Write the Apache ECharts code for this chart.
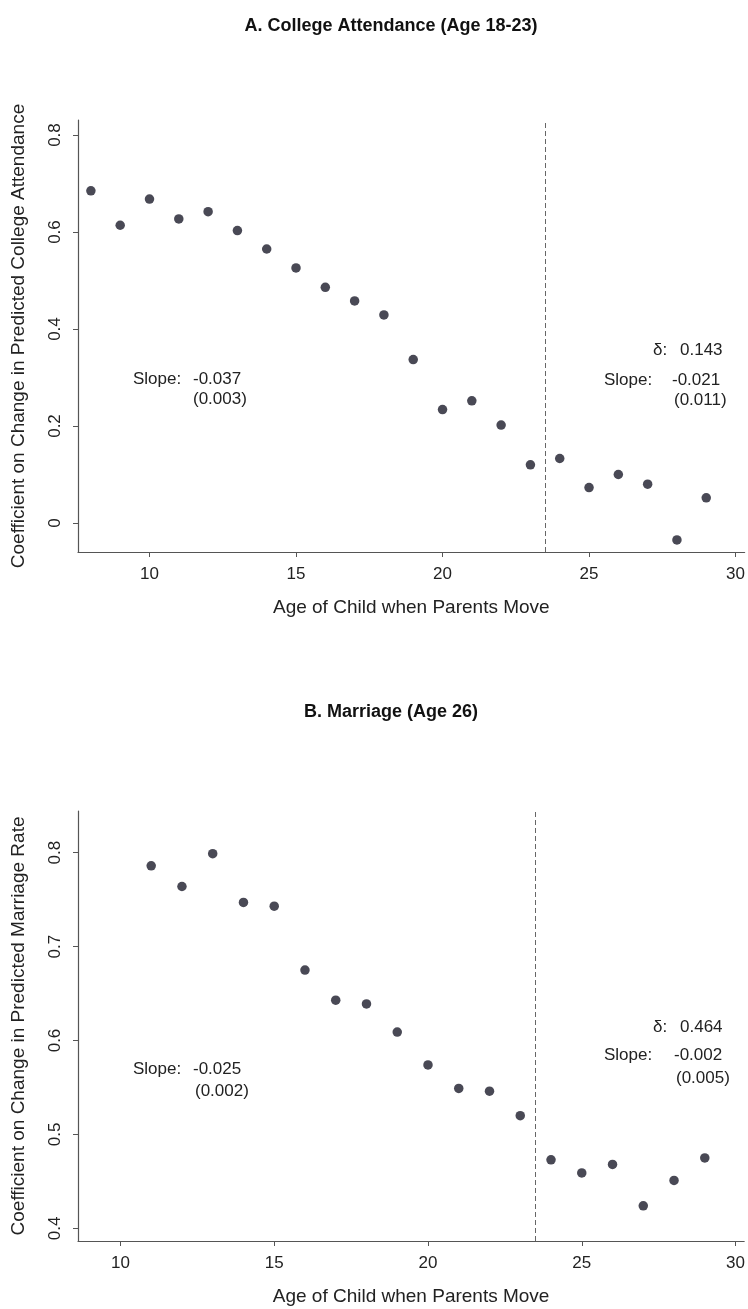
<!DOCTYPE html>
<html>
<head>
<meta charset="utf-8">
<script src="https://cdn.jsdelivr.net/npm/echarts@6/dist/echarts.min.js"></script>
<style>
  html, body { margin: 0; padding: 0; background: #fff; }
  #chart { width: 748px; height: 1309px; }
</style>
</head>
<body>
<div id="chart"></div>
<script>
// Panel A: college attendance (age 18-23)
const agesA = [8, 9, 10, 11, 12, 13, 14, 15, 16, 17, 18, 19, 20, 21, 22, 23, 24, 25, 26, 27, 28, 29];
const collegeCoef = [0.685, 0.614, 0.668, 0.627, 0.642, 0.603, 0.565, 0.526, 0.486, 0.458, 0.429,
                     0.337, 0.234, 0.252, 0.202, 0.120, 0.133, 0.073, 0.100, 0.080, -0.035, 0.052];

// Panel B: marriage (age 26)
const agesB = [11, 12, 13, 14, 15, 16, 17, 18, 19, 20, 21, 22, 23, 24, 25, 26, 27, 28, 29];
const marriageCoef = [0.786, 0.764, 0.799, 0.747, 0.743, 0.675, 0.643, 0.639, 0.609, 0.574,
                      0.549, 0.546, 0.520, 0.473, 0.459, 0.468, 0.424, 0.451, 0.475];

// Axis ticks
const xTicks = [10, 15, 20, 25, 30];
const yTicksA = [0, 0.2, 0.4, 0.6, 0.8];
const yTicksB = [0.4, 0.5, 0.6, 0.7, 0.8];

// Age cutoff (dashed reference line)
const cutoff = [23.5];

// Panel titles and axis names
const titles = ['A. College Attendance (Age 18-23)', 'B. Marriage (Age 26)'];
const xName = 'Age of Child when Parents Move';
const yNames = ['Coefficient on Change in Predicted College Attendance',
                'Coefficient on Change in Predicted Marriage Rate'];

// Regression statistics printed inside each panel
const slopeBelowA = ['-0.037', '(0.003)'];
const slopeAboveA = ['0.143', '-0.021', '(0.011)'];
const slopeBelowB = ['-0.025', '(0.002)'];
const slopeAboveB = ['0.464', '-0.002', '(0.005)'];

const FONT = '"Liberation Sans", Arial, Helvetica, sans-serif';
const INK = '#222';
const AXIS = '#555';
const DOT = '#1c1c2a';

function xAxisFor(gridIndex, min, max) {
  return {
    type: 'value', gridIndex, min, max,
    name: xName, nameLocation: 'middle', nameGap: 46,
    nameTextStyle: { fontFamily: FONT, fontSize: 19, color: INK },
    axisLine: { show: true, onZero: false, lineStyle: { color: AXIS, width: 1.2 } },
    axisTick: { show: true, length: 5, customValues: xTicks, lineStyle: { color: AXIS } },
    axisLabel: { customValues: xTicks, margin: 14, fontFamily: FONT, fontSize: 17, color: INK },
    splitLine: { show: false }
  };
}

function yAxisFor(gridIndex, min, max, ticks, name) {
  return {
    type: 'value', gridIndex, min, max,
    name, nameLocation: 'middle', nameRotate: 90, nameGap: 50,
    nameTextStyle: { fontFamily: FONT, fontSize: 19, color: INK },
    axisLine: { show: true, onZero: false, lineStyle: { color: AXIS, width: 1.2 } },
    axisTick: { show: true, length: 5, customValues: ticks, lineStyle: { color: AXIS } },
    axisLabel: { customValues: ticks, rotate: 90, margin: 14, fontFamily: FONT, fontSize: 17, color: INK },
    splitLine: { show: false }
  };
}

function scatterFor(idx, ages, values) {
  return {
    type: 'scatter', xAxisIndex: idx, yAxisIndex: idx,
    data: ages.map((a, i) => [a, values[i]]),
    symbol: 'circle', symbolSize: 9.5,
    itemStyle: { color: DOT },
    markLine: {
      silent: true, symbol: 'none', animation: false,
      label: { show: false },
      lineStyle: { color: '#666', width: 1, type: [5, 3] },
      data: cutoff.map(c => ({ xAxis: c }))
    }
  };
}

function txt(x, y, s) {
  return {
    type: 'text', left: x, top: y - 10, silent: true,
    style: { text: s, fontFamily: FONT, fontSize: 17, fill: INK }
  };
}

const chart = echarts.init(document.getElementById('chart'), null, { renderer: 'canvas' });

chart.setOption({
  animation: false,
  backgroundColor: '#fff',
  title: [
    { text: titles[0], left: 386, top: 12, textAlign: 'center',
      textStyle: { fontFamily: FONT, fontSize: 18, fontWeight: 'bold', color: '#111' } },
    { text: titles[1], left: 386, top: 698, textAlign: 'center',
      textStyle: { fontFamily: FONT, fontSize: 18, fontWeight: 'bold', color: '#111' } }
  ],
  grid: [
    { left: 78, right: 1, top: 120, height: 432 },
    { left: 78, right: 1, top: 811, height: 430 }
  ],
  xAxis: [xAxisFor(0, 7.56, 30.31), xAxisFor(1, 8.62, 30.28)],
  yAxis: [yAxisFor(0, -0.0598, 0.831, yTicksA, yNames[0]),
          yAxisFor(1, 0.3865, 0.8444, yTicksB, yNames[1])],
  series: [scatterFor(0, agesA, collegeCoef), scatterFor(1, agesB, marriageCoef)],
  graphic: [
    // panel A, left segment
    txt(133, 381, 'Slope:'), txt(193, 381, slopeBelowA[0]), txt(193, 401, slopeBelowA[1]),
    // panel A, right segment
    txt(653, 352, 'δ:'), txt(680, 352, slopeAboveA[0]),
    txt(604, 382, 'Slope:'), txt(672, 382, slopeAboveA[1]), txt(674, 402, slopeAboveA[2]),
    // panel B, left segment
    txt(133, 1071, 'Slope:'), txt(193, 1071, slopeBelowB[0]), txt(195, 1093, slopeBelowB[1]),
    // panel B, right segment
    txt(653, 1029, 'δ:'), txt(680, 1029, slopeAboveB[0]),
    txt(604, 1057, 'Slope:'), txt(674, 1057, slopeAboveB[1]), txt(676, 1080, slopeAboveB[2])
  ]
});
</script>
</body>
</html>
